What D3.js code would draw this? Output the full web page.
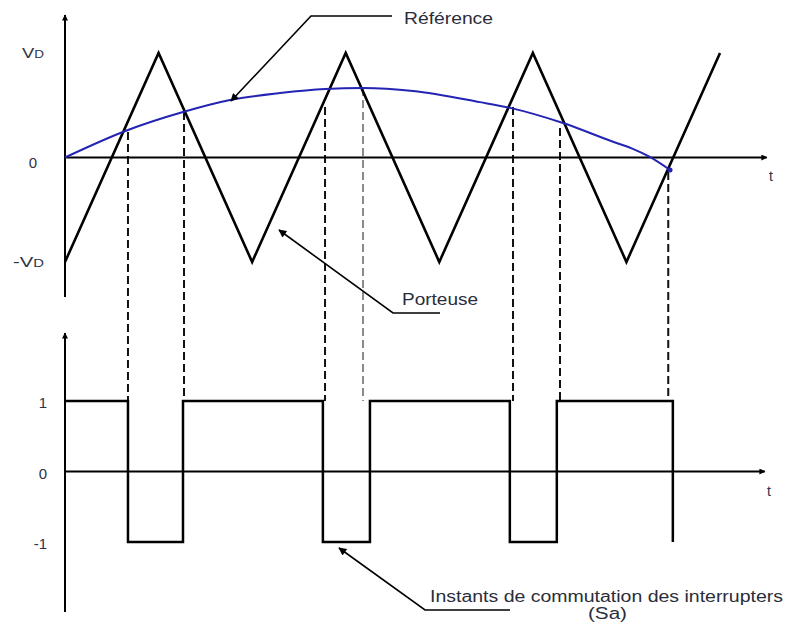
<!DOCTYPE html>
<html><head><meta charset="utf-8">
<script src="https://cdn.jsdelivr.net/npm/d3@7"></script>
<style>html,body{margin:0;padding:0;background:#fff;} svg{display:block;font-family:"Liberation Sans",Arial,sans-serif;}</style>
</head><body><svg id="c" width="785" height="622"></svg>
<script>
// ---- data ----
// carrier (Porteuse): vertices, t in carrier half-periods, value in units of VD
const carrierT = [0, 1, 2, 3, 4, 5, 6, 7];
const carrierV = [-1, 1, -1, 1, -1, 1, -1, 1];
// reference (Référence)
const refT = [0, 0.673, 1.261, 1.763, 2.298, 2.779, 3.185, 3.719, 4.435, 4.756, 5.322, 5.857, 6.05, 6.25, 6.466];
const refV = [0, 0.263, 0.435, 0.55, 0.617, 0.656, 0.665, 0.637, 0.53, 0.475, 0.33, 0.151, 0.09, 0.005, -0.12];
// switching signal Sa
const switchT = [0, 0.673, 1.261, 2.756, 3.259, 4.754, 5.256, 6.496];
const switchV = [1, -1, 1, -1, 1, -1, 1, -1];
// dashed projection lines
const dashT = [0.673, 1.272, 2.779, 3.185, 4.788, 5.29, 6.447];
const dashTopV = [0.244, 0.435, 0.483, 0.665, 0.483, 0.282, -0.139];
const dashGray = [false, false, false, true, false, false, false];
// tick labels
const topTickV = [1, 0, -1];
const topTickMain = ["V", "0", "-V"];
const topTickSub = ["D", "", "D"];
const botTickV = [1, 0, -1];
const botTickLabels = ["1", "0", "-1"];
const tMax = 7.5;

// ---- scales ----
const svg = d3.select("#c");
const x = d3.scaleLinear().domain([0, 7]).range([65, 720]);
const yTop = d3.scaleLinear().domain([-1, 1]).range([262, 53]);
const yBot = d3.scaleLinear().domain([-1, 1]).range([542, 401]);

const defs = svg.append("defs");
defs.append("marker").attr("id", "axArrow").attr("viewBox", "0 0 10 10").attr("refX", 9).attr("refY", 5)
  .attr("markerWidth", 8).attr("markerHeight", 6).attr("markerUnits", "userSpaceOnUse").attr("orient", "auto")
  .append("path").attr("d", "M0,0 L10,5 L0,10 z").attr("fill", "#000");
defs.append("marker").attr("id", "annArrow").attr("viewBox", "0 0 10 10").attr("refX", 9).attr("refY", 5)
  .attr("markerWidth", 12).attr("markerHeight", 8).attr("markerUnits", "userSpaceOnUse").attr("orient", "auto")
  .append("path").attr("d", "M0,0 L10,5 L0,10 z").attr("fill", "#000");

// ---- dashed projection lines ----
svg.append("g").selectAll("line").data(dashT).join("line")
  .attr("x1", d => x(d)).attr("x2", d => x(d))
  .attr("y1", (d, i) => yTop(dashTopV[i])).attr("y2", yBot(1))
  .attr("stroke", (d, i) => dashGray[i] ? "#8a8a8a" : "#111")
  .attr("stroke-width", 2).attr("stroke-dasharray", "8,4");

// ---- axes ----
const axisG = svg.append("g").attr("stroke", "#000").attr("stroke-width", 2);
axisG.append("line").attr("x1", x(0)).attr("x2", x(0)).attr("y1", 297).attr("y2", 15).attr("marker-end", "url(#axArrow)");
axisG.append("line").attr("x1", x(0)).attr("x2", x(tMax)).attr("y1", yTop(0)).attr("y2", yTop(0)).attr("marker-end", "url(#axArrow)");
axisG.append("line").attr("x1", x(0)).attr("x2", x(0)).attr("y1", 612).attr("y2", 333).attr("marker-end", "url(#axArrow)");
axisG.append("line").attr("x1", x(0)).attr("x2", x(tMax) - 2).attr("y1", yBot(0)).attr("y2", yBot(0)).attr("marker-end", "url(#axArrow)");

const labColor = "#2e3344";
// top tick labels
const tt = svg.append("g").attr("fill", labColor).attr("font-size", 15);
const vLen = [22, 0, 31];
topTickV.forEach((v, i) => {
  const t = tt.append("text").attr("x", i === 1 ? 33 : 44).attr("y", yTop(v) + (i === 1 ? 10 : 5))
    .attr("text-anchor", i === 1 ? "middle" : "end");
  t.append("tspan").text(topTickMain[i]);
  if (topTickSub[i]) {
    t.append("tspan").attr("font-size", 11).text(topTickSub[i]);
    t.attr("textLength", vLen[i]).attr("lengthAdjust", "spacingAndGlyphs");
  }
});
// bottom tick labels
svg.append("g").attr("fill", labColor).attr("font-size", 15).selectAll("text").data(botTickV).join("text")
  .attr("x", 47).attr("y", d => yBot(d) + 7).attr("text-anchor", "end").text((d, i) => botTickLabels[i]);
// t labels
svg.append("text").attr("x", 769).attr("y", yTop(0) + 23).attr("font-size", 14).attr("fill", labColor).text("t");
svg.append("text").attr("x", 767).attr("y", yBot(0) + 24).attr("font-size", 14).attr("fill", labColor).text("t");

// ---- carrier ----
const lineTop = d3.line().x(d => x(d[0])).y(d => yTop(d[1]));
svg.append("path").datum(carrierT.map((t, i) => [t, carrierV[i]]))
  .attr("d", lineTop).attr("fill", "none").attr("stroke", "#000").attr("stroke-width", 2.6).attr("stroke-linejoin", "miter");

// ---- reference ----
const refLine = d3.line().x(d => x(d[0])).y(d => yTop(d[1])).curve(d3.curveMonotoneX);
const refData = refT.map((t, i) => [t, refV[i]]);
svg.append("path").datum(refData).attr("d", refLine).attr("fill", "none").attr("stroke", "#2323b4").attr("stroke-width", 2);
svg.append("circle").attr("cx", x(refT[refT.length - 1])).attr("cy", yTop(refV[refV.length - 1])).attr("r", 2.5).attr("fill", "#2323b4");

// ---- switching signal ----
const stepLine = d3.line().x(d => x(d[0])).y(d => yBot(d[1])).curve(d3.curveStepAfter);
svg.append("path").datum(switchT.map((t, i) => [t, switchV[i]]))
  .attr("d", stepLine).attr("fill", "none").attr("stroke", "#000").attr("stroke-width", 2.5);

// ---- annotations ----
const ann = svg.append("g").attr("stroke", "#000").attr("stroke-width", 1.6).attr("fill", "none");
ann.append("polyline").attr("points", "392,16 311,16 231,101").attr("marker-end", "url(#annArrow)");
ann.append("polyline").attr("points", "440,313 393,313 279,230").attr("marker-end", "url(#annArrow)");
ann.append("polyline").attr("points", "510,610 425,610 339,548").attr("marker-end", "url(#annArrow)");

const at = svg.append("g").attr("fill", "#2a2d3a").attr("font-size", 16);
at.append("text").attr("x", 404).attr("y", 24).attr("textLength", 89).attr("lengthAdjust", "spacingAndGlyphs").text("Référence");
at.append("text").attr("x", 402).attr("y", 305).attr("textLength", 76).attr("lengthAdjust", "spacingAndGlyphs").text("Porteuse");
at.append("text").attr("x", 430).attr("y", 602).attr("textLength", 353).attr("lengthAdjust", "spacingAndGlyphs").text("Instants de commutation des interrupters");
at.append("text").attr("x", 588).attr("y", 619).attr("textLength", 39).attr("lengthAdjust", "spacingAndGlyphs").text("(Sa)");
</script></body></html>
